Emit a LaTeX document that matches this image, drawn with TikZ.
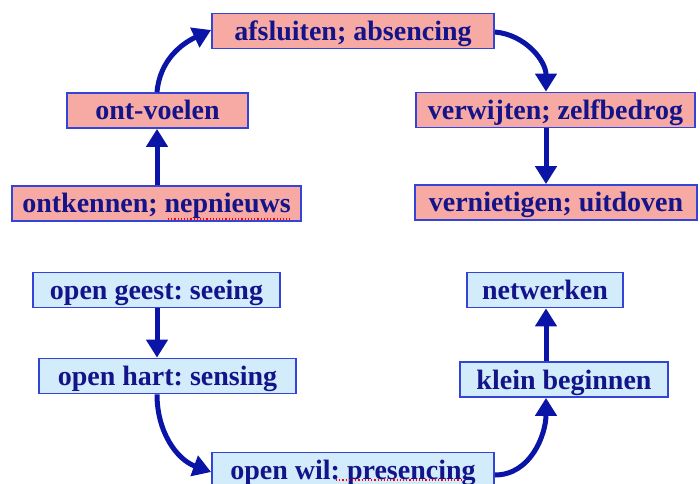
\documentclass[tikz,border=0pt]{standalone}
\usepackage{fontspec}
\setmainfont{Liberation Serif}
\usetikzlibrary{arrows.meta}
\frenchspacing
\definecolor{boxline}{HTML}{3344D8}
\definecolor{txtcol}{HTML}{14148A}
\definecolor{arrcol}{HTML}{0A14A6}
\definecolor{pinkfill}{HTML}{F7A9A4}
\definecolor{bluefill}{HTML}{D3ECFB}
\tikzset{
  box/.style={rectangle, draw=boxline, line width=1.8bp, inner xsep=0pt, inner ysep=5bp,
    text height=22bp, text depth=3bp, text=txtcol,
    font=\fontsize{28bp}{30bp}\selectfont\bfseries},
  redbox/.style={box, fill=pinkfill},
  bluebox/.style={box, fill=bluefill},
  arr/.style={draw=arrcol, line width=5bp, -{Triangle[length=18bp,width=21bp]}},
  spell/.style={draw=red, line width=1.2bp, dotted}
}
\begin{document}
\begin{tikzpicture}[x=1bp,y=-1bp]
\useasboundingbox (0,0) rectangle (700,484);
% red nodes
\node[redbox, minimum width=282bp] (afs) at (353,31) {afsluiten; absencing};
\node[redbox, minimum width=181bp] (ont) at (157.5,110.5) {ont-voelen};
\node[redbox, minimum width=289bp] (ontk) at (156.5,203.5) {ontkennen; nepnieuws};
\node[redbox, minimum width=279bp] (verw) at (555.5,110) {verwijten; zelfbedrog};
\node[redbox, minimum width=282bp] (vern) at (556,202.5) {vernietigen; uitdoven};
% blue nodes
\node[bluebox, minimum width=247bp] (geest) at (156.5,290) {open geest: seeing};
\node[bluebox, minimum width=257bp] (hart) at (167.5,376) {open hart: sensing};
\node[bluebox, minimum width=282bp] (wil) at (353,470) {open wil: presencing};
\node[bluebox, minimum width=156bp] (netw) at (545,290) {netwerken};
\node[bluebox, minimum width=208bp] (klein) at (564,379.5) {klein beginnen};
% helper coordinates
\coordinate (lx) at (157,0);
\coordinate (rx) at (546,0);
% arrows
\draw[arr] (ontk.north -| lx) -- (ont.south -| lx);
\draw[arr] (ont.north -| lx) to[out=85,in=205] ([yshift=1bp]afs.west);
\draw[arr] ([yshift=-1bp]afs.east) to[out=-5,in=90] (verw.north -| rx);
\draw[arr] (verw.south -| rx) -- (vern.north -| rx);
\draw[arr] (geest.south -| lx) -- (hart.north -| lx);
\draw[arr] (hart.south -| lx) to[out=-90,in=160] ([yshift=-2bp]wil.west);
\draw[arr] ([yshift=-5bp]wil.east) to[out=0,in=-90] (klein.south -| rx);
\draw[arr] (klein.north -| rx) -- (netw.south -| rx);
% spell-check underlines
\coordinate (s1a) at (168,219);
\coordinate (s1b) at (290,219);
\coordinate (s2a) at (336,480);
\coordinate (s2b) at (463,480);
\draw[spell] (s1a) -- (s1b);
\draw[spell] (s2a) -- (s2b);
\end{tikzpicture}
\end{document}
